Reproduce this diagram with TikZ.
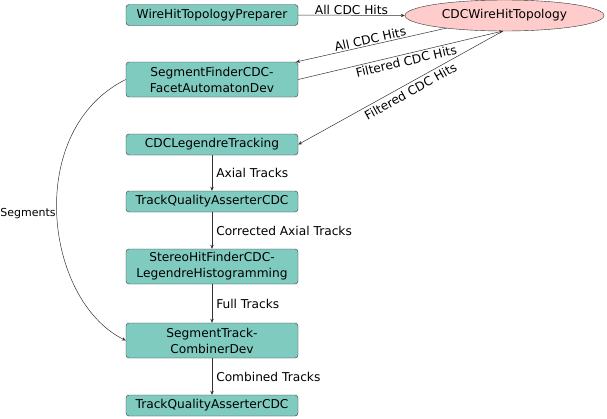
\documentclass[tikz,border=0pt]{standalone}
\usepackage{fontspec}
\setmainfont{DejaVu Sans}
\usetikzlibrary{arrows.meta,shapes.geometric}
\definecolor{boxfill}{HTML}{80CBBF}
\definecolor{ellfill}{HTML}{FFCCCC}
\begin{document}
\begin{tikzpicture}[x=1pt,y=-1pt,
  font=\fontsize{12.2}{16}\selectfont,
  modbox/.style={draw=black!80, fill=boxfill, rounded corners=3pt, minimum width=172pt, inner sep=0.5pt, align=center},
  onebox/.style={modbox, minimum height=21pt},
  twobox/.style={modbox, minimum height=35pt},
  flow/.style={draw=black!80, line width=0.5pt, -{Stealth[length=4pt,width=3.5pt]}},
  lab/.style={font=\fontsize{12.2}{14}\selectfont, inner sep=1pt}
]
\useasboundingbox (0,0) rectangle (607,418);
\node[onebox] (prep) at (212,15) {WireHitTopologyPreparer};
\node[ellipse, draw=black!80, fill=ellfill, minimum width=199pt, minimum height=31pt, inner sep=0pt] (topo) at (504.5,15.5) {CDCWireHitTopology};
\node[twobox] (seg) at (212,79.5) {SegmentFinderCDC-\\FacetAutomatonDev};
\node[onebox] (leg) at (212,144.5) {CDCLegendreTracking};
\node[onebox] (tqa1) at (212,201.5) {TrackQualityAsserterCDC};
\node[twobox] (stereo) at (212,266.5) {StereoHitFinderCDC-\\LegendreHistogramming};
\node[twobox] (comb) at (212,340.5) {SegmentTrack-\\CombinerDev};
\node[onebox] (tqa2) at (212,405.5) {TrackQualityAsserterCDC};
\coordinate (tb) at (503,31);
\coordinate (ta) at (447,28);
\coordinate (sne) at (296,62);

\draw[flow] (prep.east) -- node[lab, above, pos=0.5, yshift=-1pt] {All CDC Hits} (topo.west);
\draw[flow] (ta) -- node[lab, sloped, above, pos=0.5] {All CDC Hits} (sne);
\draw[flow] (seg.east) -- node[lab, sloped, below, pos=0.52, yshift=-1pt] {Filtered CDC Hits} (tb);
\draw[flow] (tb) -- node[lab, sloped, below, pos=0.47, yshift=-2pt] {Filtered CDC Hits} (leg.east);
\draw[flow] (seg.west) .. controls (24,130) and (44,300) .. node[lab, left, pos=0.5, font=\fontsize{11}{13}\selectfont] {Segments} (comb.west);
\draw[flow] (leg) -- node[lab, right, xshift=3pt] {Axial Tracks} (tqa1);
\draw[flow] (tqa1) -- node[lab, right, xshift=3pt] {Corrected Axial Tracks} (stereo);
\draw[flow] (stereo) -- node[lab, right, xshift=3pt] {Full Tracks} (comb);
\draw[flow] (comb) -- node[lab, right, xshift=3pt] {Combined Tracks} (tqa2);
\end{tikzpicture}
\end{document}
